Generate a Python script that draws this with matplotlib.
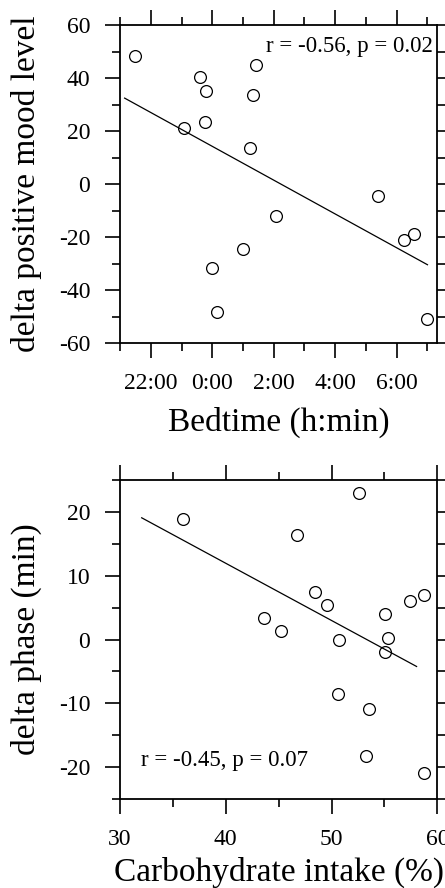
import numpy as np
import matplotlib
matplotlib.use("Agg")
import matplotlib.pyplot as plt
from matplotlib.ticker import MultipleLocator, FixedLocator

plt.rcParams['font.family'] = ['Liberation Serif', 'DejaVu Serif']
plt.rcParams['axes.unicode_minus'] = False

# top panel: bedtime (hours relative to midnight) vs change in positive mood
bedtime = [-2.51, -0.93, -0.39, -0.21, -0.25, 1.41, 1.33, 1.24,
           5.40, 2.06, 6.23, 6.57, 0.99, -0.01, 0.14, 6.99]
mood = [48.4, 21.0, 40.4, 35.2, 23.5, 44.9, 33.5, 13.6,
        -4.4, -12.0, -21.1, -19.0, -24.5, -31.6, -48.4, -50.9]
bed_ticks = [-2, 0, 2, 4, 6]
bed_minor = [-3, -1, 1, 3, 5, 7]
bed_labels = ["22:00", "0:00", "2:00", "4:00", "6:00"]
bed_fit_range = [-2.85, 7.0]
bed_stats = "r = -0.56, p = 0.02"

# bottom panel: carbohydrate intake vs change in phase
carb = [35.95, 46.76, 52.56, 48.43, 49.6, 57.38, 58.76, 55.05, 43.58,
        45.19, 50.73, 55.3, 55.05, 50.63, 53.57, 53.22, 58.73]
phase = [18.9, 16.4, 22.9, 7.45, 5.4, 6.0, 7.0, 4.0, 3.3,
         1.3, 0.0, 0.25, -2.0, -8.5, -10.9, -18.2, -20.9]
carb_fit_range = [32.05, 58.04]
carb_stats = "r = -0.45, p = 0.07"


def style_axes(ax):
    for s in ax.spines.values():
        s.set_linewidth(1.3)
    ax.tick_params(which='both', direction='out', top=True, right=True,
                   width=1.2, labelsize=17, pad=11)
    ax.tick_params(which='major', length=10.5)
    ax.tick_params(which='minor', length=6)


def scatter_fit(ax, x, y, fit_range):
    ax.plot(x, y, 'o', mfc='none', mec='black', ms=8.5, mew=0.9)
    # least squares line through the points
    coef = np.polyfit(x, y, 1)
    xs = np.array(fit_range)
    ax.plot(xs, np.polyval(coef, xs), color='black', lw=0.9)


fig = plt.figure(figsize=(4.45, 8.88), dpi=100)

# top panel
ax1 = fig.add_axes([0.2697, 0.6137, 0.7130, 0.3581])
scatter_fit(ax1, bedtime, mood, bed_fit_range)
ax1.set_xlim(-3, 7.32)
ax1.set_ylim(-60, 60)
ax1.xaxis.set_major_locator(FixedLocator(bed_ticks))
ax1.xaxis.set_minor_locator(FixedLocator(bed_minor))
ax1.set_xticklabels(bed_labels)
ax1.yaxis.set_major_locator(MultipleLocator(20))
ax1.yaxis.set_minor_locator(MultipleLocator(10))
style_axes(ax1)
ax1.text(0.987, 0.932, bed_stats, transform=ax1.transAxes,
         ha='right', va='center', fontsize=16.5)
ax1.set_xlabel("Bedtime (h:min)", fontsize=24)
ax1.set_ylabel("delta positive mood level", fontsize=24)
ax1.xaxis.set_label_coords(0.5, -0.2)
ax1.yaxis.set_label_coords(-0.245, 0.5)

# bottom panel
ax2 = fig.add_axes([0.2697, 0.1002, 0.7130, 0.3592])
scatter_fit(ax2, carb, phase, carb_fit_range)
ax2.set_xlim(30, 60)
ax2.set_ylim(-25, 25)
ax2.xaxis.set_major_locator(MultipleLocator(10))
ax2.xaxis.set_minor_locator(MultipleLocator(5))
ax2.yaxis.set_major_locator(FixedLocator([-20, -10, 0, 10, 20]))
ax2.yaxis.set_minor_locator(FixedLocator([-25, -15, -5, 5, 15, 25]))
style_axes(ax2)
ax2.text(32.0, -19.0, carb_stats, ha='left', va='center', fontsize=16.5)
ax2.set_xlabel("Carbohydrate intake (%)", fontsize=24)
ax2.set_ylabel("delta phase (min)", fontsize=24)
ax2.xaxis.set_label_coords(0.5, -0.18)
ax2.yaxis.set_label_coords(-0.245, 0.5)

fig.savefig("out.png", dpi=100)
